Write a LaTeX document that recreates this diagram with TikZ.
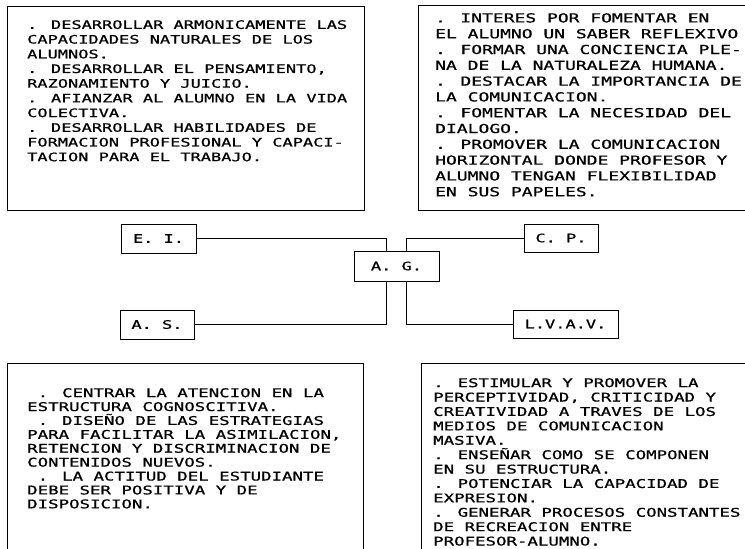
\documentclass[tikz,border=0pt]{standalone}
\usepackage{fontspec}
\usepackage{tikz}
\usetikzlibrary{positioning}
\newfontfamily\plotter[FakeStretch=1.45,FakeBold=0.8]{DejaVu Sans Mono}
\tikzset{
    panel/.style = {rectangle, draw=black, line width=0.9pt, inner sep=0pt},
    tag/.style = {rectangle, draw=black, line width=0.9pt, inner sep=0pt, minimum height=29pt, font=\plotter\fontsize{11.7}{14}\selectfont},
    notes/.style 2 args = {anchor=north west, inner sep=0pt, align=left, font=\plotter\fontsize{#1}{#2}\selectfont},
    link/.style = {-, line width=0.9pt, black}
}
\begin{document}
\begin{tikzpicture}[
	x=1pt,
	y=-1pt
]
\useasboundingbox (0,0) rectangle (745,549);
% panels
\node[panel, minimum width=357pt, minimum height=204pt] at (185.5,108) (eipanel) {};
\node[panel, minimum width=332pt, minimum height=205pt] at (584,107.5) (cppanel) {};
\node[panel, minimum width=356pt, minimum height=193pt] at (185,459.5) (aspanel) {};
\node[panel, minimum width=329pt, minimum height=193pt] at (585.5,459.5) (lvpanel) {};
%
\node[notes={11.7}{14.7}] at (27,20) (eitext) {%
. DESARROLLAR ARMONICAMENTE LAS\\
CAPACIDADES NATURALES DE LOS\\
ALUMNOS.\\
. DESARROLLAR EL PENSAMIENTO,\\
RAZONAMIENTO Y JUICIO.\\
. AFIANZAR AL ALUMNO EN LA VIDA\\
COLECTIVA.\\
. DESARROLLAR HABILIDADES DE\\
FORMACION PROFESIONAL Y CAPACI-\\
TACION PARA EL TRABAJO.};
\node[notes={12.4}{15.8}] at (435,13) (cptext) {%
. INTERES POR FOMENTAR EN\\
EL ALUMNO UN SABER REFLEXIVO\\
. FORMAR UNA CONCIENCIA PLE-\\
NA DE LA NATURALEZA HUMANA.\\
. DESTACAR LA IMPORTANCIA DE\\
LA COMUNICACION.\\
. FOMENTAR LA NECESIDAD DEL\\
DIALOGO.\\
. PROMOVER LA COMUNICACION\\
HORIZONTAL DONDE PROFESOR Y\\
ALUMNO TENGAN FLEXIBILIDAD\\
EN SUS PAPELES.};
\node[notes={12}{13.9}] at (27,388) (astext) {%
~. CENTRAR LA ATENCION EN LA\\
ESTRUCTURA COGNOSCITIVA.\\
~. DISEÑO DE LAS ESTRATEGIAS\\
PARA FACILITAR LA ASIMILACION,\\
RETENCION Y DISCRIMINACION DE\\
CONTENIDOS NUEVOS.\\
~. LA ACTITUD DEL ESTUDIANTE\\
DEBE SER POSITIVA Y DE\\
DISPOSICION.};
\node[notes={12}{14.4}] at (433,378) (lvtext) {%
. ESTIMULAR Y PROMOVER LA\\
PERCEPTIVIDAD, CRITICIDAD Y\\
CREATIVIDAD A TRAVES DE LOS\\
MEDIOS DE COMUNICACION\\
MASIVA.\\
. ENSEÑAR COMO SE COMPONEN\\
EN SU ESTRUCTURA.\\
. POTENCIAR LA CAPACIDAD DE\\
EXPRESION.\\
. GENERAR PROCESOS CONSTANTES\\
DE RECREACION ENTRE\\
PROFESOR-ALUMNO.};
% tags
\node[tag, minimum width=85pt, minimum height=30pt] at (396.5,266) (ag) {A. G.};
\node[tag, minimum width=75pt] at (158.5,238.5) (ei) {E. I.};
\node[tag, minimum width=74pt, minimum height=28pt] at (561,238) (cp) {C. P.};
\node[tag, minimum width=74pt] at (157,324.5) (as) {A. S.};
\node[tag, minimum width=105pt, minimum height=28pt] at (565.5,324) (lvav) {L.V.A.V.};
%
\draw[link] (ei.east) -| ([xshift=-10pt]ag.north);
\draw[link] ([xshift=10pt]ag.north) |- (cp.west);
\draw[link] ([xshift=-10pt]ag.south) |- (as.east);
\draw[link] ([xshift=10pt]ag.south) |- (lvav.west);
\end{tikzpicture}
\end{document}
